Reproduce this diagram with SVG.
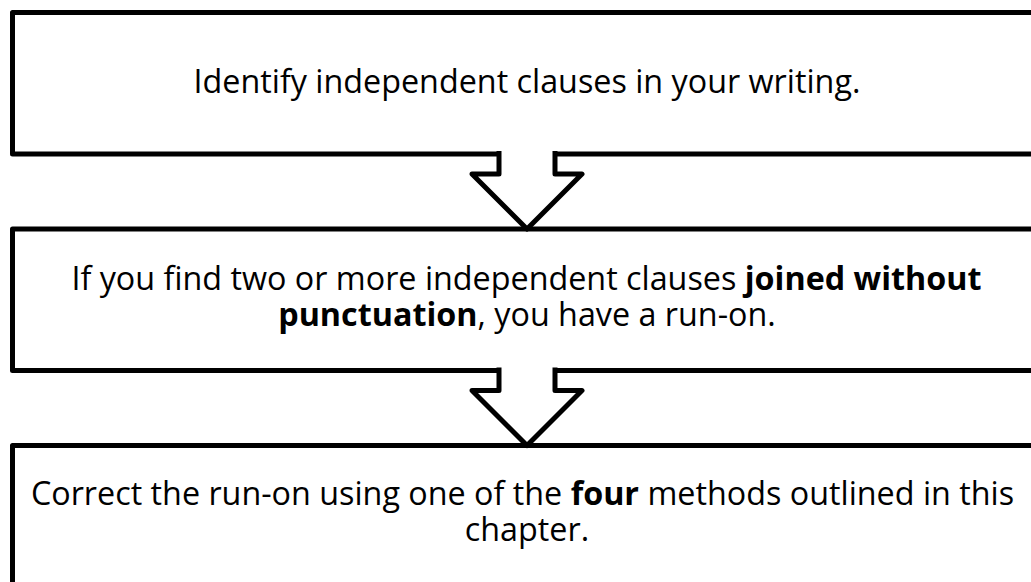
<svg xmlns="http://www.w3.org/2000/svg" width="1031" height="582" viewBox="0 0 1031 582">
<style>
.box{fill:#fff;stroke:#000;stroke-width:5;stroke-linejoin:round}
.arr{fill:#fff;stroke:#000;stroke-width:5;stroke-linejoin:round;stroke-linecap:butt}
.t{font-family:"Open Sans","Noto Sans","Liberation Sans",sans-serif;font-size:32.3px;fill:#000;text-anchor:middle}
.b{font-weight:bold}
</style>
<rect width="1031" height="582" fill="#fff"/>
<g id="node1">
<rect class="box" x="12.5" y="12.5" width="1040" height="141.5"/>
<text class="t" x="527" y="93">Identify independent clauses in your writing.</text>
</g>
<g id="node2">
<rect class="box" x="12.5" y="229" width="1040" height="141.5"/>
<text class="t"><tspan x="526.5" y="290">If you find two or more independent clauses <tspan class="b">joined without</tspan></tspan><tspan x="527" y="326"><tspan class="b">punctuation</tspan>, you have a run-on.</tspan></text>
</g>
<g id="node3">
<rect class="box" x="12.5" y="445.5" width="1040" height="141.5"/>
<text class="t"><tspan x="522.5" y="505">Correct the run-on using one of the <tspan class="b">four</tspan> methods outlined in this</tspan><tspan x="527" y="541">chapter.</tspan></text>
</g>
<g id="connectors">
<path class="arr" d="M499 151 L499 174 L472 174 L527 229 L582 174 L555 174 L555 151"/>
<path class="arr" d="M499 367.5 L499 390.5 L472 390.5 L527 445.5 L582 390.5 L555 390.5 L555 367.5"/>
</g>
</svg>
